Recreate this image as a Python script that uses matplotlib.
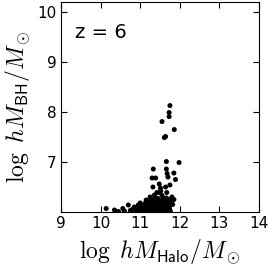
import matplotlib
matplotlib.use("Agg")
import matplotlib.pyplot as plt

plt.rcParams["mathtext.fontset"] = "cm"
plt.rcParams["xtick.direction"] = "in"
plt.rcParams["ytick.direction"] = "in"

# log h M_halo / M_sun
halo_mass = [
    11.75, 11.73, 11.73, 11.55, 11.86, 11.61, 11.64, 11.66, 11.98, 11.33,
    11.66, 11.68, 11.85, 11.30, 11.39, 11.70, 11.89, 11.48, 11.75, 11.32,
    11.64, 11.51, 11.42, 11.48, 11.67, 11.36, 11.55, 11.80, 11.25, 11.60,
    11.45, 11.85, 11.70, 11.52, 11.78,
    10.14, 10.35, 10.45, 10.56, 10.70, 10.60, 10.80, 10.91, 10.95, 11.00,
    11.05, 11.15, 11.20, 10.75, 10.85,
    10.90, 10.98, 11.05, 11.12, 11.18, 11.25, 11.32, 11.40, 11.48, 11.55,
    11.62, 11.70, 11.76,
    10.92, 11.00, 11.08, 11.15, 11.22, 11.30, 11.38, 11.45, 11.52, 11.60,
    11.68, 11.74,
    11.02, 11.10, 11.18, 11.26, 11.34, 11.42, 11.50, 11.58, 11.66, 11.72,
    11.12, 11.20, 11.28, 11.36, 11.44, 11.52, 11.60, 11.68, 11.78,
    11.24, 11.32, 11.40, 11.48, 11.56, 11.64, 11.72,
    11.30, 11.40, 11.58, 11.66, 11.78, 11.82,
]
# log h M_BH / M_sun
bh_mass = [
    8.13, 7.99, 7.91, 7.81, 7.65, 7.49, 7.51, 7.01, 6.99, 6.86,
    6.86, 6.77, 6.78, 6.68, 6.68, 6.70, 6.65, 6.56, 6.54, 6.50,
    6.50, 6.48, 6.39, 6.39, 6.39, 6.34, 6.33, 6.30, 6.30, 6.28,
    6.27, 6.25, 6.24, 6.42, 6.20,
    6.07, 6.04, 6.01, 6.07, 6.14, 6.02, 6.05, 6.09, 6.14, 6.18,
    6.12, 6.24, 6.22, 6.03, 6.10,
    6.02, 6.03, 6.02, 6.03, 6.02, 6.03, 6.02, 6.03, 6.02, 6.03,
    6.02, 6.03, 6.02,
    6.07, 6.08, 6.07, 6.08, 6.07, 6.08, 6.07, 6.08, 6.07, 6.08,
    6.07, 6.08,
    6.13, 6.12, 6.13, 6.12, 6.13, 6.12, 6.13, 6.12, 6.13, 6.12,
    6.17, 6.18, 6.17, 6.18, 6.17, 6.18, 6.17, 6.18, 6.17,
    6.22, 6.23, 6.22, 6.23, 6.22, 6.23, 6.22,
    6.26, 6.28, 6.26, 6.28, 6.26, 6.15,
]

fig = plt.figure(figsize=(2.68, 2.66), dpi=100)
ax = fig.add_axes([0.2276, 0.203, 0.739, 0.789])

ax.scatter(halo_mass, bh_mass, s=13, color="black", edgecolors="none")

ax.set_xlim(9, 14)
ax.set_ylim(6, 10.2)
ax.set_xticks([9, 10, 11, 12, 13, 14])
ax.set_yticks([7, 8, 9, 10])
ax.tick_params(labelsize=11, top=True, right=True, length=4, width=0.8, pad=3)

ax.set_xlabel(r"$\log\ hM_{\mathsf{Halo}}/M_\odot$", fontsize=17, labelpad=4)
ax.set_ylabel(r"$\log\ hM_{\mathsf{BH}}/M_\odot$", fontsize=17, labelpad=4)
ax.text(0.07, 0.83, "z = 6", transform=ax.transAxes, fontsize=14)

fig.savefig("out.png", dpi=100)
